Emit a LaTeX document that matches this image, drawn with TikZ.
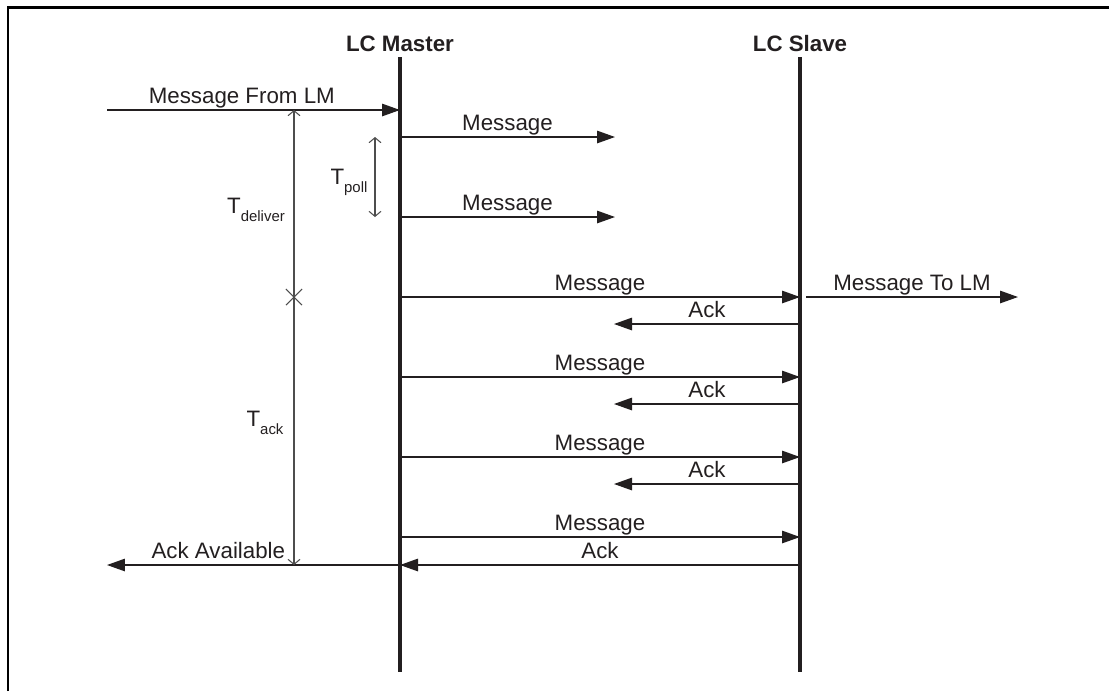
\documentclass[tikz,border=0pt]{standalone}
\usepackage{fontspec}
\setmainfont{Liberation Sans}
\usetikzlibrary{arrows.meta, positioning, shapes.misc}
\definecolor{ink}{HTML}{231F20}
\definecolor{rule}{HTML}{4D4D4D}

\begin{document}
\begin{tikzpicture}[
  x=0.02cm, y=-0.02cm,
  every node/.style={font=\fontsize{12.7}{15}\selectfont, text=ink},
  head/.style={font=\bfseries\fontsize{12.7}{15}\selectfont, anchor=base},
  life/.style={line width=2.3pt, draw=ink},
  msg/.style={-{Triangle[length=0.36cm, width=0.25cm]}, line width=0.75pt, draw=ink},
  span/.style={{Straight Barb[length=0.1cm, width=0.24cm]}-{Straight Barb[length=0.1cm, width=0.24cm]},
               line width=0.6pt, draw=rule},
  lbl/.style={above, inner sep=0pt, text depth=3.5pt},
  tlbl/.style={inner sep=0pt}
]
  \useasboundingbox (0,0) rectangle (1109,691);
  \draw[line width=1.7pt, draw=black] (8,691) -- (8,7) -- (1109,7);

  % lifelines
  \node[head] (master) at (400,51) {LC Master};
  \node[head] (slave)  at (800,51) {LC Slave};
  \coordinate (mtop) at (400,57);  \coordinate (mbot) at (400,672);
  \coordinate (stop) at (800,57);  \coordinate (sbot) at (800,672);
  \draw[life] (mtop) -- (mbot);
  \draw[life] (stop) -- (sbot);

  % end points of the messages
  \coordinate (lmin)  at (107,110);  \coordinate (min)  at (400,110);
  \coordinate (m1)    at (400,137);  \coordinate (p1)   at (615,137);
  \coordinate (m2)    at (400,217);  \coordinate (p2)   at (615,217);
  \coordinate (m3)    at (400,297);  \coordinate (s3)   at (800,297);
  \coordinate (s3out) at (806,297);  \coordinate (lmout) at (1018,297);
  \coordinate (s4)    at (800,324);  \coordinate (q4)   at (614,324);
  \coordinate (m5)    at (400,377);  \coordinate (s5)   at (800,377);
  \coordinate (s6)    at (800,404);  \coordinate (q6)   at (614,404);
  \coordinate (m7)    at (400,457);  \coordinate (s7)   at (800,457);
  \coordinate (s8)    at (800,484);  \coordinate (q8)   at (614,484);
  \coordinate (m9)    at (400,537);  \coordinate (s9)   at (800,537);
  \coordinate (s10)   at (800,565);  \coordinate (m10)  at (400,565);
  \coordinate (lmack) at (107,565);

  \draw[msg] (lmin) -- node[lbl, pos=0.46]{Message From LM} (min);
  \draw[msg] (m1)   -- node[lbl]{Message} (p1);
  \draw[msg] (m2)   -- node[lbl]{Message} (p2);
  \draw[msg] (m3)   -- node[lbl]{Message} (s3);
  \draw[msg] (s3out) -- node[lbl]{Message To LM} (lmout);
  \draw[msg] (s4)   -- node[lbl]{Ack} (q4);
  \draw[msg] (m5)   -- node[lbl]{Message} (s5);
  \draw[msg] (s6)   -- node[lbl]{Ack} (q6);
  \draw[msg] (m7)   -- node[lbl]{Message} (s7);
  \draw[msg] (s8)   -- node[lbl]{Ack} (q8);
  \draw[msg] (m9)   -- node[lbl]{Message} (s9);
  \draw[msg] (s10)  -- node[lbl]{Ack} (m10);
  \draw[msg] (m10)  -- node[lbl, pos=0.62]{Ack Available} (lmack);

  % timing
  \coordinate (dtop) at (294,110);  \coordinate (dbot) at (294,565);
  \coordinate (ptop) at (375,137);  \coordinate (pbot) at (375,217);
  \node[cross out, draw=rule, line width=0.6pt, minimum size=0.3cm, inner sep=0pt] (split) at (294,297) {};
  \draw[span] (dtop) -- (dbot);
  \draw[span] (ptop) -- (pbot);
  \node[tlbl] (tdeliver) at (256,210) {T\raisebox{-0.35em}{\fontsize{8.5}{9}\selectfont deliver}};
  \node[tlbl] (tpoll)    at (349,182) {T\raisebox{-0.35em}{\fontsize{8.5}{9}\selectfont poll}};
  \node[tlbl] (tack)     at (265,423) {T\raisebox{-0.35em}{\fontsize{8.5}{9}\selectfont ack}};
\end{tikzpicture}
\end{document}
